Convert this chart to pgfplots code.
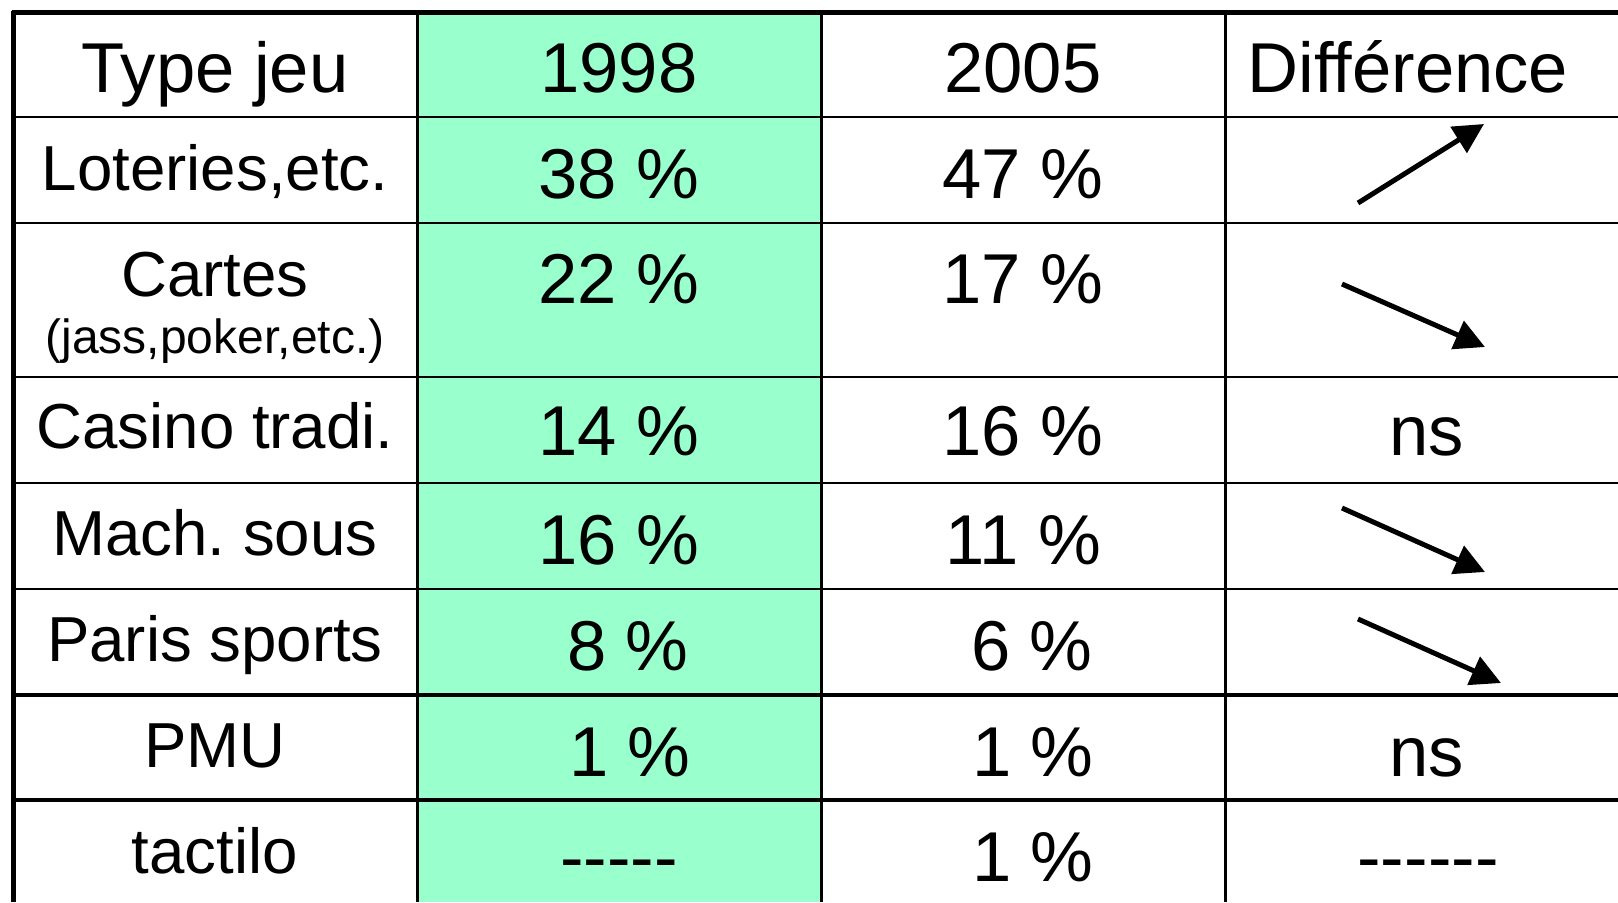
\documentclass[border=0pt]{standalone}
\usepackage{fontspec}
\setmainfont{Liberation Sans}
\usepackage{pgfplots}
\pgfplotsset{compat=1.18}
\usepackage{pgfplotstable}
\usetikzlibrary{arrows.meta}
\definecolor{tgreen}{RGB}{153,255,204}
\frenchspacing

% header row (x = centre, y = baseline, in pixels from top-left)
\pgfplotstableread{
x y t
215 92 {Type jeu}
619 92 1998
1023 92 2005
1408 92 {Différence}
}\header

% row labels
\pgfplotstableread{
x y t
215 190 {Loteries,etc.}
215 296 {Cartes}
215 448 {Casino tradi.}
215 555 {Mach.\ sous}
215 661 {Paris sports}
215 767 {PMU}
215 873 {tactilo}
}\labels

\pgfplotstableread{
x y t
215 353 {(jass,poker,etc.)}
}\sublabel

% 1998 column
\pgfplotstableread{
x y t
619 198 {38 \%}
619 303 {22 \%}
619 455 {14 \%}
619 564 {16 \%}
628 670 {8 \%}
630 776 {1 \%}
619 881 {-{}-{}-{}-{}-}
}\yearA

% 2005 column
\pgfplotstableread{
x y t
1023 198 {47 \%}
1023 303 {17 \%}
1023 455 {16 \%}
1023 564 {11 \%}
1032 670 {6 \%}
1033 776 {1 \%}
1033 881 {1 \%}
}\yearB

% Difference column (text)
\pgfplotstableread{
x y t
1427 455 {ns}
1427 776 {ns}
1428 881 {-{}-{}-{}-{}-{}-}
}\diffs

\pgfplotsset{
  celltext/.style={draw=none, mark=none, nodes near coords,
    point meta=explicit symbolic,
    every node near coord/.append style={anchor=base, inner sep=0pt,
      outer sep=0pt, text=black, font=#1}},
}

\begin{document}
\begin{tikzpicture}
\begin{axis}[
  name=ax,
  width=809pt, height=451pt, scale only axis,
  xmin=0, xmax=1618, ymin=0, ymax=902,
  y dir=reverse,
  axis line style={draw=none},
  xtick=\empty, ytick=\empty,
  clip=true,
]
% green 1998 column
\fill[tgreen] (axis cs:417,12) rectangle (axis cs:821,902);

% inner horizontal rules
\draw[line width=1.3pt] (axis cs:13,117) -- (axis cs:1618,117);
\draw[line width=1.3pt] (axis cs:13,223) -- (axis cs:1618,223);
\draw[line width=1.3pt] (axis cs:13,377) -- (axis cs:1618,377);
\draw[line width=1.3pt] (axis cs:13,483) -- (axis cs:1618,483);
\draw[line width=1.3pt] (axis cs:13,589) -- (axis cs:1618,589);
\draw[line width=1.8pt] (axis cs:13,695) -- (axis cs:1618,695);
\draw[line width=1.8pt] (axis cs:13,800) -- (axis cs:1618,800);
% inner vertical rules
\draw[line width=1.5pt] (axis cs:417,12) -- (axis cs:417,902);
\draw[line width=1.5pt] (axis cs:821,12) -- (axis cs:821,902);
\draw[line width=1.5pt] (axis cs:1225,12) -- (axis cs:1225,902);
% outer border
\draw[line width=2.5pt] (axis cs:11.75,12) -- (axis cs:1618,12);
\draw[line width=2.5pt] (axis cs:13,10.75) -- (axis cs:13,902);

% text
\addplot[celltext={\fontsize{35.3}{40}\selectfont}] table[x=x,y=y,meta=t] {\header};
\addplot[celltext={\fontsize{31.8}{36}\selectfont}] table[x=x,y=y,meta=t] {\labels};
\addplot[celltext={\fontsize{24}{28}\selectfont}] table[x=x,y=y,meta=t] {\sublabel};
\addplot[celltext={\fontsize{35.3}{40}\selectfont}] table[x=x,y=y,meta=t] {\yearA};
\addplot[celltext={\fontsize{35.3}{40}\selectfont}] table[x=x,y=y,meta=t] {\yearB};
\addplot[celltext={\fontsize{35.3}{40}\selectfont}] table[x=x,y=y,meta=t] {\diffs};

% trend arrows
\addplot[black, line width=2.5pt, -{Triangle[length=15pt,width=15pt]}]
  coordinates {(1358,203) (1484,124)};
\addplot[black, line width=2.5pt, -{Triangle[length=15pt,width=15pt]}]
  coordinates {(1342,284) (1485,347)};
\addplot[black, line width=2.5pt, -{Triangle[length=15pt,width=15pt]}]
  coordinates {(1342,508) (1485,572)};
\addplot[black, line width=2.5pt, -{Triangle[length=15pt,width=15pt]}]
  coordinates {(1358,619) (1501,683)};
\end{axis}
\pgfresetboundingbox
\path[use as bounding box] (ax.south west) rectangle (ax.north east);
\end{tikzpicture}
\end{document}
